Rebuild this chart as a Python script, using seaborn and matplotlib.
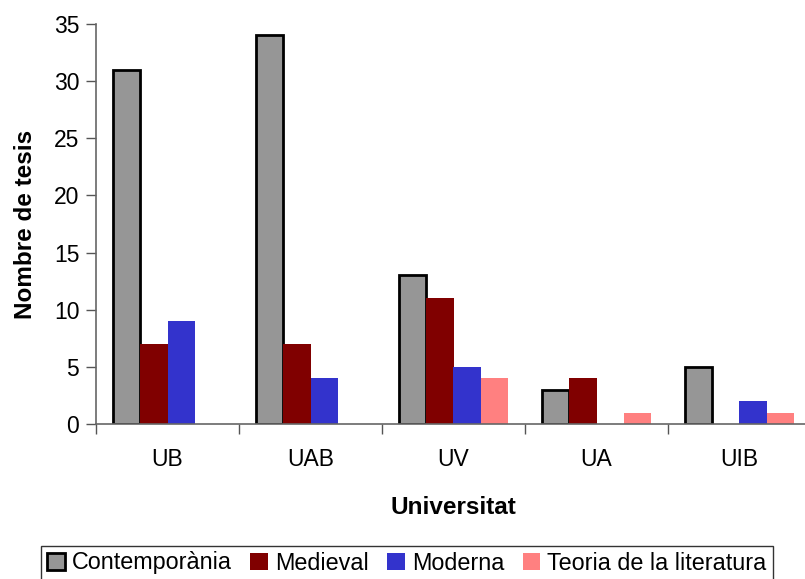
import matplotlib
matplotlib.use('Agg')

import pandas as pd
import matplotlib.pyplot as plt
import seaborn as sns

# Data
universitats = ['UB', 'UAB', 'UV', 'UA', 'UIB']
contemporania = [31, 34, 13, 3, 5]
medieval = [7, 7, 11, 4, 0]
moderna = [9, 4, 5, 0, 2]
teoria = [0, 0, 4, 1, 1]
series_names = ['Contemporània', 'Medieval', 'Moderna', 'Teoria de la literatura']
colors = ['#969696', '#800000', '#3333CC', '#FF8080']

df = pd.DataFrame({
    'Universitat': universitats * 4,
    'Area': [s for s in series_names for _ in universitats],
    'Tesis': contemporania + medieval + moderna + teoria,
})

sns.set_style('white')
plt.rcParams['font.family'] = ['Liberation Sans', 'DejaVu Sans']
plt.rcParams.update({'text.color': 'black', 'axes.labelcolor': 'black',
                     'xtick.color': 'black', 'ytick.color': 'black'})

fig = plt.figure(figsize=(8.05, 5.79), dpi=100)
ax = fig.add_axes([96 / 805, 1 - 424 / 579, 715 / 805, 400 / 579])

sns.barplot(data=df, x='Universitat', y='Tesis', hue='Area', order=universitats,
            hue_order=series_names, palette=colors, width=0.76, saturation=1,
            linewidth=0, ax=ax, legend=False)

# only the grey series has a black outline
for bar in ax.containers[0]:
    bar.set_edgecolor('black')
    bar.set_linewidth(2)

ax.set_xlim(-0.5, 4.5)
ax.set_ylim(0, 35)
ax.set_yticks(range(0, 36, 5))
ax.tick_params(axis='y', labelsize=16.5, length=7, width=1, color='#555555',
               labelcolor='black', direction='out', left=True, pad=5)
ax.tick_params(axis='x', which='major', labelsize=16.5, length=0, pad=17, labelcolor='black')
ax.set_xticks([i - 0.5 for i in range(6)], minor=True)
ax.tick_params(axis='x', which='minor', length=7, width=1, color='#555555', direction='out', bottom=True)

for side in ['top', 'right']:
    ax.spines[side].set_visible(False)
for side in ['left', 'bottom']:
    ax.spines[side].set_color('#666666')
    ax.spines[side].set_linewidth(1.2)

ax.set_xlabel('Universitat', fontsize=17.5, fontweight='bold', labelpad=18)
ax.set_ylabel('Nombre de tesis', fontsize=17.5, fontweight='bold', labelpad=12)

handles = [plt.Rectangle((0, 0), 1, 1, facecolor=c, edgecolor='black' if i == 0 else 'none',
                         linewidth=2 if i == 0 else 0) for i, c in enumerate(colors)]
leg = fig.legend(handles, series_names, loc='center', bbox_to_anchor=(407 / 805, 1 - 563 / 579),
                 ncol=4, fontsize=16.8, frameon=True, fancybox=False, handlelength=0.75,
                 handleheight=0.75, handletextpad=0.3, columnspacing=0.8, borderpad=0.25)
leg.get_frame().set_edgecolor('black')
leg.get_frame().set_linewidth(1)

fig.savefig('out.png', dpi=100)
